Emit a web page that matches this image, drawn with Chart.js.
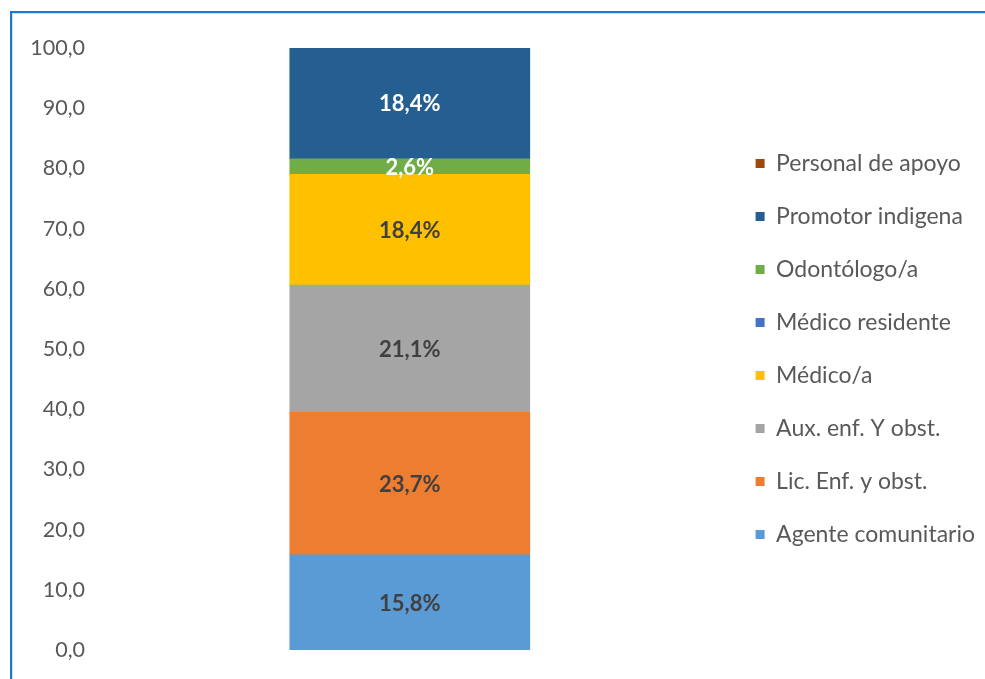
<!DOCTYPE html>
<html>
<head>
<meta charset="utf-8">
<script src="https://cdn.jsdelivr.net/npm/chart.js@4.4.1/dist/chart.umd.min.js"></script>
<style>
  html, body { margin: 0; padding: 0; background: #ffffff; overflow: hidden; }
  #frame { position: absolute; left: 10px; top: 11px; width: 1200px; height: 900px;
           border-top: 2px solid #1c78cc; border-left: 2px solid #1c78cc;
           box-shadow: inset 1px 1px 0 #d6dde6; }
  #wrap { position: absolute; left: 0; top: 0; width: 985px; height: 679px; }
</style>
</head>
<body>
<div id="frame"></div>
<div id="wrap"><canvas id="c"></canvas></div>
<script>
const categories = [""];
const seriesNames = ["Agente comunitario", "Lic. Enf. y obst.", "Aux. enf. Y obst.", "Médico/a",
                     "Médico residente", "Odontólogo/a", "Promotor indigena", "Personal de apoyo"];
const agenteComunitario = [15.8];
const licEnf = [23.7];
const auxEnf = [21.1];
const medico = [18.4];
const medicoResidente = [0];
const odontologo = [2.6];
const promotorIndigena = [18.4];
const personalApoyo = [0];
const yTicks = [0, 10, 20, 30, 40, 50, 60, 70, 80, 90, 100];

const seriesValues = [agenteComunitario, licEnf, auxEnf, medico, medicoResidente, odontologo, promotorIndigena, personalApoyo];
const colors = ["#5b9bd5", "#ed7d31", "#a5a5a5", "#ffc000", "#4472c4", "#70ad47", "#255e91", "#9e480e"];
const labelColors = ["#404040", "#404040", "#404040", "#404040", "#ffffff", "#ffffff", "#ffffff", "#ffffff"];

const fmt = v => v.toFixed(1).replace('.', ',');

const dataLabels = {
  id: 'dataLabels',
  afterDatasetsDraw(chart) {
    const ctx = chart.ctx;
    ctx.save();
    ctx.font = 'bold 22px Lato';
    ctx.textAlign = 'center';
    ctx.textBaseline = 'middle';
    chart.data.datasets.forEach((ds, i) => {
      const meta = chart.getDatasetMeta(i);
      meta.data.forEach((bar, j) => {
        const v = ds.data[j];
        if (!v) return;
        const p = bar.getProps(['x', 'y', 'base'], true);
        ctx.fillStyle = labelColors[i];
        ctx.fillText(fmt(v) + '%', p.x, (p.y + p.base) / 2 + 1);
      });
    });
    ctx.restore();
  }
};

new Chart(document.getElementById('c'), {
  type: 'bar',
  data: {
    labels: categories,
    datasets: seriesNames.map((name, i) => ({
      label: name,
      data: seriesValues[i],
      backgroundColor: colors[i],
      borderWidth: 0,
      barThickness: 240
    }))
  },
  options: {
    responsive: true,
    maintainAspectRatio: false,
    animation: false,
    layout: { padding: { top: 48, bottom: 29, left: 0, right: 0 } },
    scales: {
      x: { stacked: true, display: false },
      y: {
        stacked: true,
        min: 0, max: 100,
        afterFit: s => { s.width = 94; },
        afterBuildTicks: s => { s.ticks = yTicks.map(v => ({ value: v })); },
        border: { display: false },
        grid: { display: false, drawTicks: false },
        ticks: {
          padding: 9,
          color: '#595959',
          font: { family: 'Lato', size: 21.5 },
          callback: v => fmt(v)
        }
      }
    },
    plugins: {
      tooltip: { enabled: false },
      legend: {
        position: 'right',
        reverse: true,
        maxWidth: 260,
        labels: {
          boxWidth: 9,
          boxHeight: 9,
          padding: 30,
          color: '#595959',
          font: { family: 'Lato', size: 23 }
        }
      }
    }
  },
  plugins: [dataLabels]
});
</script>
</body>
</html>
